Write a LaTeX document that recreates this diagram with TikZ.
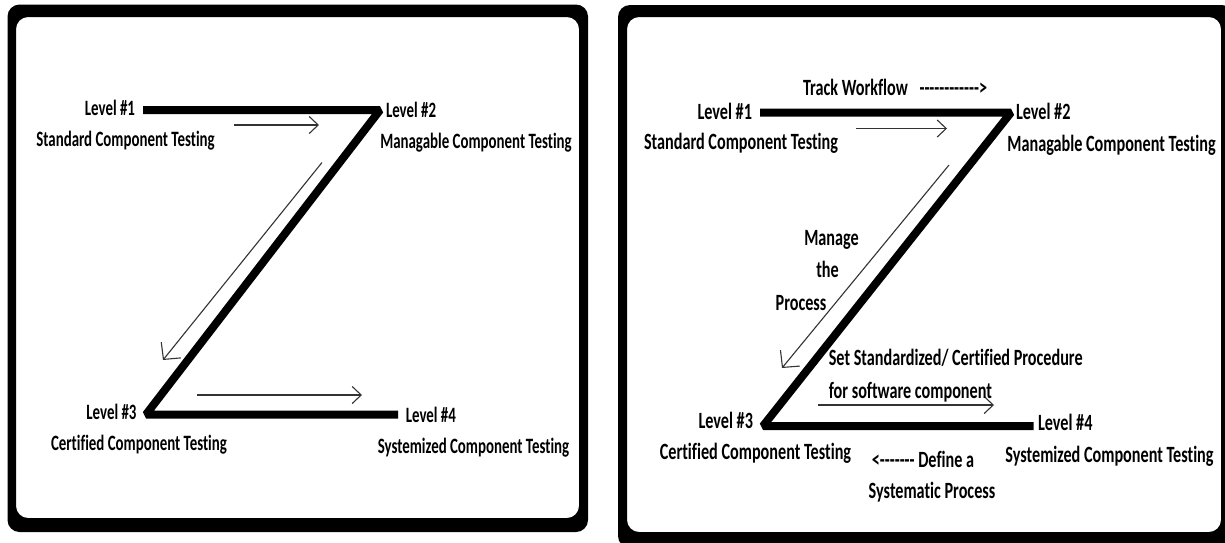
\documentclass[tikz,border=0pt]{standalone}
\usepackage{fontspec}
\usetikzlibrary{arrows.meta}
\newfontfamily\zfont[FakeStretch=0.68, Ligatures=NoCommon]{Carlito}
\newfontfamily\zfontr[FakeStretch=0.695, Ligatures=NoCommon]{Carlito}
\tikzset{
  frame/.style={fill=black, even odd rule, rounded corners=12pt},
  zline/.style={line width=8pt, line join=bevel},
  lab/.style={font=\zfont\bfseries\fontsize{21.9}{26}\selectfont, inner sep=0pt, outer sep=0pt},
  labr/.style={font=\zfontr\bfseries\fontsize{23.3}{27}\selectfont, inner sep=0pt, outer sep=0pt},
  flow/.style={draw=black!80, line width=1.1pt,
    -{Straight Barb[length=9pt,width=17pt,line width=1.1pt]}},
  flowd/.style={draw=black!80, line width=1.1pt,
    -{Straight Barb[length=12pt,width=25pt,line width=1.1pt]}},
}
\begin{document}
\begin{tikzpicture}[x=1pt, y=-1pt]
\clip (0,0) rectangle (1225,542);
\fill[white] (0,0) rectangle (1225,542);

% frames of the two panels
\fill[frame] (7.5,4.5) rectangle (588,532) (16,17) rectangle (579,518);
\fill[frame] (618,5) rectangle (1234,548) (627,17) rectangle (1221,532);

% ---------------- left panel ----------------
\coordinate (a1) at (143,110);
\coordinate (a2) at (380,110);
\coordinate (a3) at (146,414.5);
\coordinate (a4) at (398,414.5);
\draw[zline] (a1) -- (a2) -- (a3) -- (a4);

\coordinate (p1s) at (234,125);  \coordinate (p1e) at (319,125);
\coordinate (p2s) at (322,162.5); \coordinate (p2e) at (163,360);
\coordinate (p3s) at (197,395);  \coordinate (p3e) at (362,395);
\draw[flow]  (p1s) -- (p1e);
\draw[flowd] (p2s) -- (p2e);
\draw[flow]  (p3s) -- (p3e);

\node[lab, anchor=base east] (l1) at (135,115.5) {Level \#1};
\node[lab, anchor=base west] (l2) at (386,117.5) {Level \#2};
\node[lab, anchor=base] (s1) at (125.5,146.5) {Standard Component Testing};
\node[lab, anchor=base] (s2) at (476,148) {Managable Component Testing};
\node[lab, anchor=base east] (l3) at (136.5,419) {Level \#3};
\node[lab, anchor=base west] (l4) at (405.8,422.5) {Level \#4};
\node[lab, anchor=base] (s3) at (139,450) {Certified Component Testing};
\node[lab, anchor=base] (s4) at (473.5,453) {Systemized Component Testing};

% ---------------- right panel ----------------
\coordinate (b1) at (760,112.5);
\coordinate (b2) at (1011,112.5);
\coordinate (b3) at (763,426);
\coordinate (b4) at (1033.5,426);
\draw[zline] (b1) -- (b2) -- (b3) -- (b4);

\coordinate (q1s) at (856,128.5); \coordinate (q1e) at (947,128.5);
\coordinate (q2s) at (949,165);   \coordinate (q2e) at (782,368);
\coordinate (q3s) at (818,405);   \coordinate (q3e) at (994,405);
\draw[flow]  (q1s) -- (q1e);
\draw[flowd] (q2s) -- (q2e);
\draw[flow]  (q3s) -- (q3e);

\node[labr, anchor=base west] (tw) at (803,95.5)
  {Track Workflow\hspace{8pt} -{}-{}-{}-{}-{}-{}-{}-{}-{}-{}-{}->};
\node[labr, anchor=base east] (m1) at (752,119.5) {Level \#1};
\node[labr, anchor=base west] (m2) at (1016,119) {Level \#2};
\node[labr, anchor=base] (t1) at (741,149.5) {Standard Component Testing};
\node[labr, anchor=base] (t2) at (1111.5,151.5) {Managable Component Testing};
\node[labr, anchor=base] (mg1) at (831.5,245.5) {Manage};
\node[labr, anchor=base] (mg2) at (827.5,277.5) {the};
\node[labr, anchor=base] (mg3) at (801,310.5) {Process};
\node[labr, anchor=base west] (sc1) at (828.8,365.5) {Set Standardized/ Certified Procedure};
\node[labr, anchor=base west] (sc2) at (828.8,398) {for software component};
\node[labr, anchor=base east] (m3) at (753,428) {Level \#3};
\node[labr, anchor=base west] (m4) at (1038,430.5) {Level \#4};
\node[labr, anchor=base] (t3) at (755.5,459) {Certified Component Testing};
\node[labr, anchor=base] (df1) at (923,467) {<-{}-{}-{}-{}-{}-{}- Define a};
\node[labr, anchor=base] (df2) at (932,498.5) {Systematic Process};
\node[labr, anchor=base] (t4) at (1109.5,462.5) {Systemized Component Testing};
\end{tikzpicture}
\end{document}
